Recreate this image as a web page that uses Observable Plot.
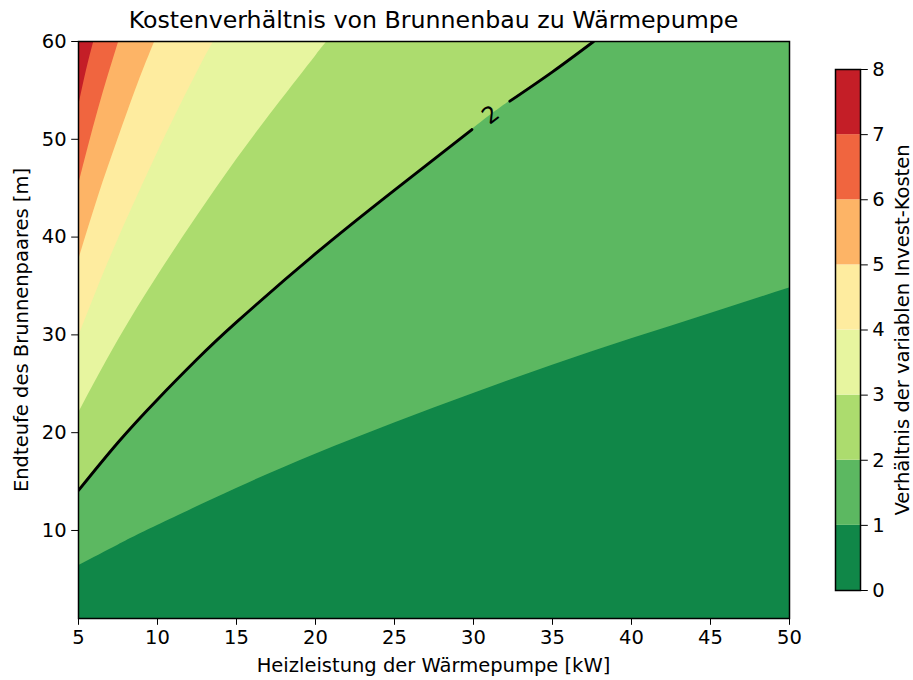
<!DOCTYPE html>
<html>
<head>
<meta charset="utf-8">
<script src="https://cdn.jsdelivr.net/npm/d3@7"></script>
<script src="https://cdn.jsdelivr.net/npm/@observablehq/plot@0.6"></script>
<style>
  body { margin: 0; background: #fff; }
  #wrap { position: relative; width: 913px; height: 680px; font-family: "DejaVu Sans", sans-serif; color: #000; }
  #wrap svg { position: absolute; top: 0; font-family: "DejaVu Sans", sans-serif; }
  .lbl { position: absolute; white-space: nowrap; transform: translate(-50%, -50%); line-height: 1; }
  .rot { transform: translate(-50%, -50%) rotate(-90deg); }
</style>
</head>
<body>
<div id="wrap">
  <div class="lbl" style="left:433.5px; top:21px; font-size:23.7px;">Kostenverhältnis von Brunnenbau zu Wärmepumpe</div>
  <div class="lbl" style="left:433.5px; top:666px; font-size:19.5px;">Heizleistung der Wärmepumpe [kW]</div>
  <div class="lbl rot" style="left:22px; top:330px; font-size:19.5px;">Endteufe des Brunnenpaares [m]</div>
  <div class="lbl rot" style="left:903px; top:330px; font-size:19.5px;">Verhältnis der variablen Invest-Kosten</div>
</div>
<script>
// ---- data (power kW, depth m) ----
const xTicks = [5, 10, 15, 20, 25, 30, 35, 40, 45, 50];
const yTicks = [10, 20, 30, 40, 50, 60];
const levelTicks = [0, 1, 2, 3, 4, 5, 6, 7, 8];
const xDomain = [5, 50];
const yDomain = [1, 60];

// contour boundaries (ratio = level), points [power, depth]
const boundary1 = [[5, 6.4], [7.5, 8.5], [10, 10.5], [15, 14.3], [20, 17.8], [25, 21.0], [30, 24.0], [35, 26.9], [40, 29.6], [45, 32.2], [50, 34.8]];
const boundary2 = [[5, 14.1], [7.5, 19.0], [10, 23.4], [12.5, 27.5], [15, 31.3], [20, 38.3], [25, 44.8], [29.9, 51.0], [32.3, 53.9], [35, 56.9], [37.6, 60]];
const boundary3 = [[5, 22.0], [7.5, 29.4], [10, 36.0], [12.5, 42.1], [15, 47.9], [17.5, 53.3], [20, 58.5], [20.74, 60]];
const boundary4 = [[5, 29.8], [6.25, 34.9], [7.5, 39.7], [10, 48.6], [12.5, 56.8], [13.56, 60]];
const boundary5 = [[5, 37.6], [6.25, 44.1], [7.5, 50.0], [8.75, 55.6], [9.83, 60]];
const boundary6 = [[5, 45.3], [6.25, 53.0], [7.55, 60]];
const boundary7 = [[5, 53.3], [5.5, 57.0], [5.97, 60]];
const boundaries = [boundary1, boundary2, boundary3, boundary4, boundary5, boundary6, boundary7];

// contour label of the highlighted level 2 line
const lineLabel = [{x: 31.1, y: 52.5, text: "2"}];
const lineGap = [29.9, 32.3];

// RdYlGn_r colours for the bands 0-1 ... 7-8
const bandColors = ["#108748", "#5cb861", "#acdc6e", "#e7f59f", "#feec9f", "#fdb466", "#f0653f", "#c41e27"];

const H = 680;
const fontSize = "19.5px";
const curve = "natural";

const marks = [
  Plot.frame({fill: bandColors[0], stroke: null})
];
boundaries.forEach((b, i) => {
  marks.push(Plot.areaY(b, {
    x: d => d[0], y1: d => d[1], y2: () => yDomain[1],
    fill: bandColors[i + 1], curve
  }));
});
marks.push(Plot.line(boundary2.filter(d => d[0] <= lineGap[0]), {
  x: d => d[0], y: d => d[1], stroke: "black", strokeWidth: 2.9, curve
}));
marks.push(Plot.line(boundary2.filter(d => d[0] >= lineGap[1]), {
  x: d => d[0], y: d => d[1], stroke: "black", strokeWidth: 2.9, curve: "catmull-rom"
}));
marks.push(Plot.text(lineLabel, {
  x: "x", y: "y", text: "text", rotate: -37.7, fontSize: 23, fill: "black",
  textAnchor: "middle", lineAnchor: "middle"
}));
marks.push(Plot.axisX({ticks: xTicks, tickSize: 6.8, tickPadding: 5, label: null, fontSize}));
marks.push(Plot.axisY({ticks: yTicks, tickSize: 6.8, tickPadding: 5, label: null, fontSize}));
marks.push(Plot.frame({stroke: "black", strokeWidth: 1.5}));

const main = Plot.plot({
  width: 800, height: H,
  marginLeft: 78, marginRight: 11, marginTop: 41, marginBottom: 62,
  x: {domain: xDomain},
  y: {domain: yDomain},
  clip: true,
  style: {fontFamily: "DejaVu Sans", fontSize, color: "black", background: "transparent", overflow: "visible"},
  marks
});
main.style.left = "0px";

const bar = Plot.plot({
  width: 80, height: H,
  marginLeft: 2, marginRight: 53, marginTop: 69, marginBottom: 90,
  x: {domain: [0, 1], axis: null},
  y: {domain: [0, 8]},
  style: {fontFamily: "DejaVu Sans", fontSize, color: "black", background: "transparent", overflow: "visible"},
  marks: [
    Plot.rect(levelTicks.slice(0, 8), {x1: 0, x2: 1, y1: d => d, y2: d => d + 1, fill: (d) => bandColors[d]}),
    Plot.axisY({ticks: levelTicks, anchor: "right", tickSize: 6.8, tickPadding: 5, label: null, fontSize}),
    Plot.frame({stroke: "black", strokeWidth: 1.5})
  ]
});
bar.style.left = "833px";

document.getElementById("wrap").append(main, bar);
</script>
</body>
</html>
